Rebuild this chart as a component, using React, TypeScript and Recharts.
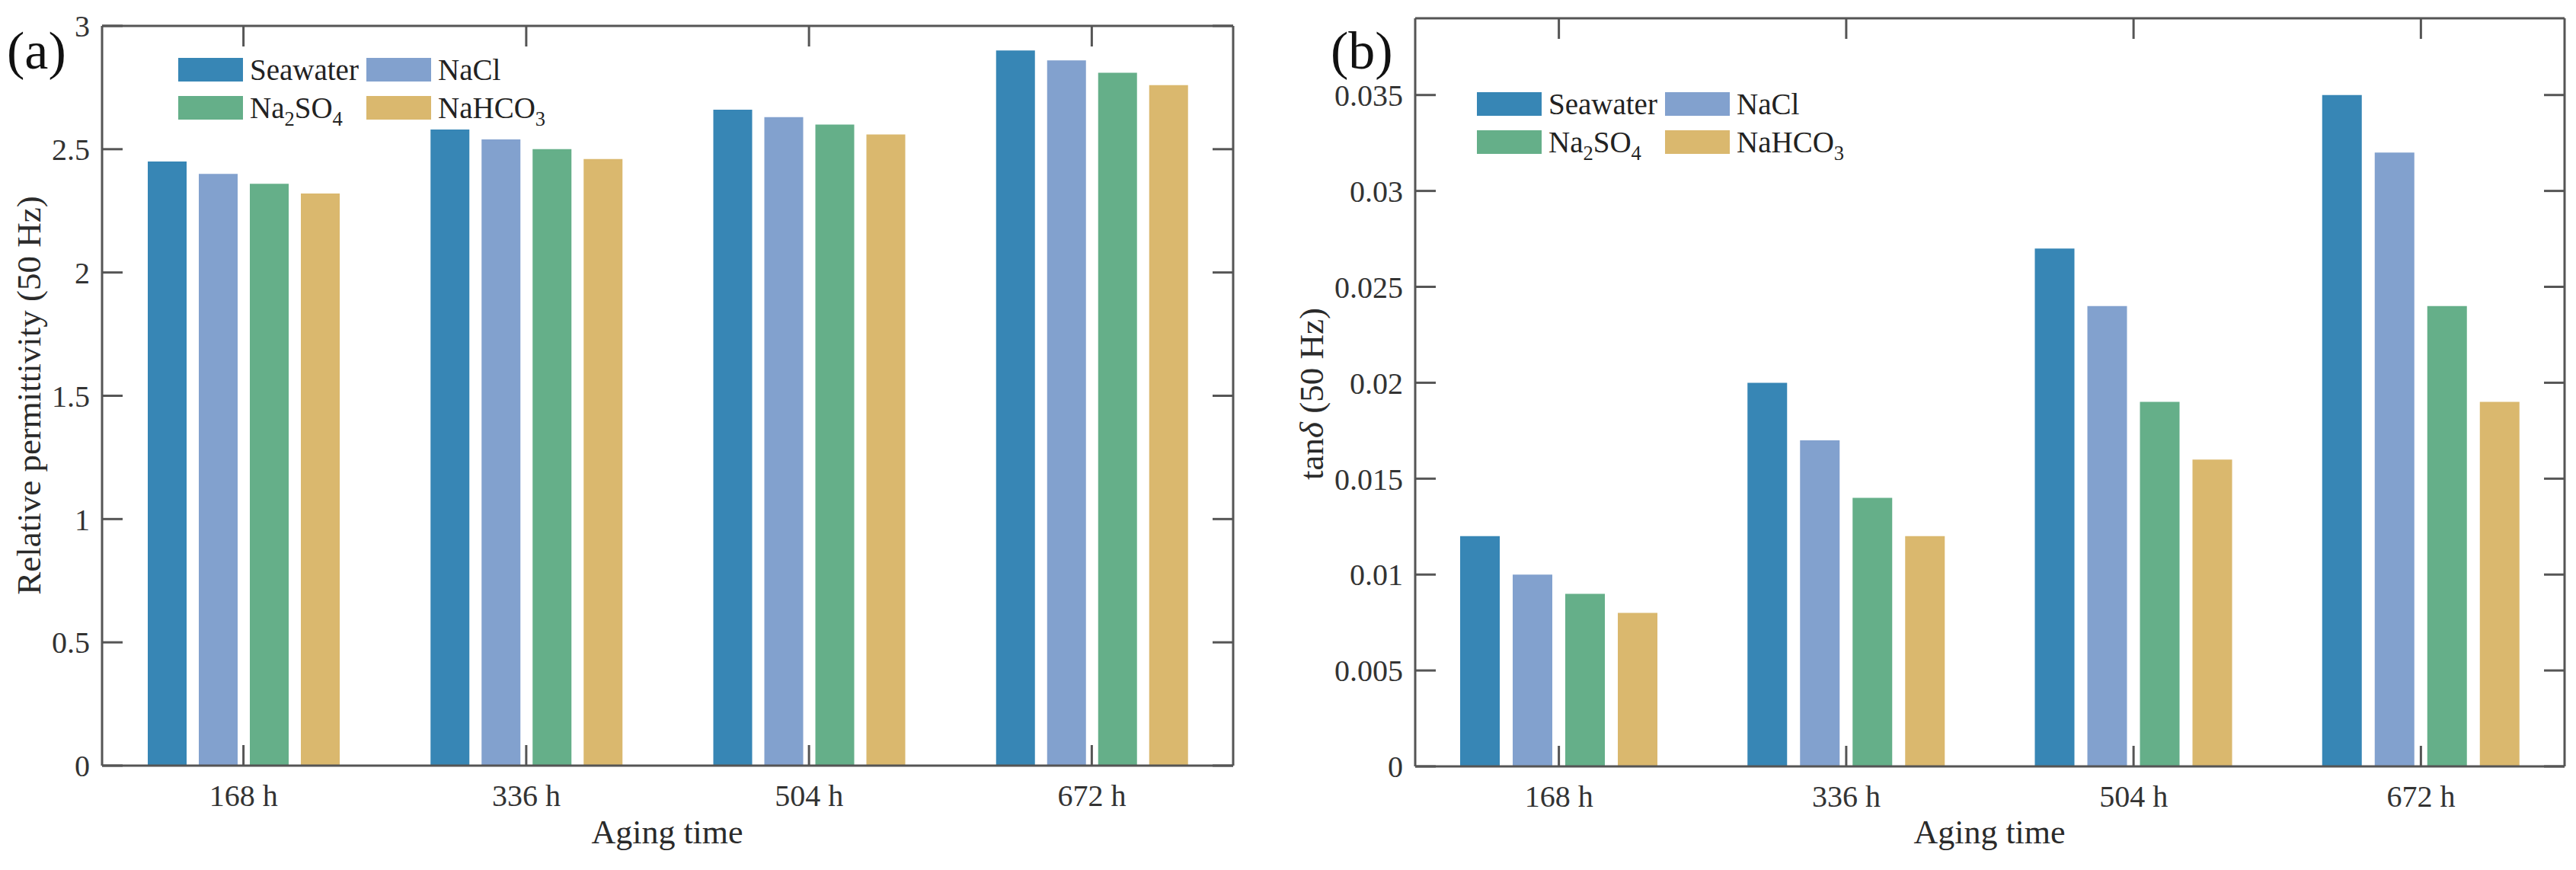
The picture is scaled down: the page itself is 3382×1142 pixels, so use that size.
import { BarChart, Bar, XAxis, YAxis, Legend, ReferenceLine } from 'recharts'

const FONT = "'Liberation Serif', 'Times New Roman', serif"
const AXIS = '#555555'
const TEXT = '#333333'
const TICK_LEN = 27

const CATEGORIES = ['168 h', '336 h', '504 h', '672 h']
const SERIES = ['Seawater', 'NaCl', 'Na2SO4', 'NaHCO3']
const COLORS = ['#3786b5', '#82a1ce', '#65af89', '#dab86e']

// (a) relative permittivity at 50 Hz
const PERM_SEAWATER = [2.45, 2.58, 2.66, 2.9]
const PERM_NACL = [2.4, 2.54, 2.63, 2.86]
const PERM_NA2SO4 = [2.36, 2.5, 2.6, 2.81]
const PERM_NAHCO3 = [2.32, 2.46, 2.56, 2.76]
const PERM_TICKS = [0, 0.5, 1, 1.5, 2, 2.5, 3]

// (b) tan delta at 50 Hz
const TAN_SEAWATER = [0.012, 0.02, 0.027, 0.035]
const TAN_NACL = [0.01, 0.017, 0.024, 0.032]
const TAN_NA2SO4 = [0.009, 0.014, 0.019, 0.024]
const TAN_NAHCO3 = [0.008, 0.012, 0.016, 0.019]
const TAN_TICKS = [0, 0.005, 0.01, 0.015, 0.02, 0.025, 0.03, 0.035]

function buildRows(series: number[][]) {
  return CATEGORIES.map((cat, i) => {
    const row: Record<string, string | number> = { cat }
    series.forEach((vals, k) => { row['s' + k] = vals[i] })
    return row
  })
}

const permRows = buildRows([PERM_SEAWATER, PERM_NACL, PERM_NA2SO4, PERM_NAHCO3])
const tanRows = buildRows([TAN_SEAWATER, TAN_NACL, TAN_NA2SO4, TAN_NAHCO3])

// digits in formulas go down as subscripts
function chem(label: string) {
  return label.split(/(\d+)/).map((part, i) =>
    /^\d+$/.test(part)
      ? <span key={i} style={{ fontSize: '0.68em', position: 'relative', top: '0.38em' }}>{part}</span>
      : <span key={i}>{part}</span>
  )
}

function SwatchLegend({ payload }: { payload?: { value: string; color: string }[] }) {
  if (!payload?.length) return null
  // keep series order (Seawater, NaCl / Na2SO4, NaHCO3)
  const items = payload
    .filter((e) => SERIES.includes(e.value))
    .sort((a, b) => SERIES.indexOf(a.value) - SERIES.indexOf(b.value))
  return (
    <div style={{ display: 'grid', gridTemplateColumns: '247px 260px', rowGap: 19, fontFamily: FONT }}>
      {items.map((e) => (
        <div key={e.value} style={{ display: 'flex', alignItems: 'center', height: 31 }}>
          <span style={{ width: 85, height: 31, background: e.color, marginRight: 9, flex: 'none' }} />
          <span style={{ fontSize: 39, lineHeight: 1, color: '#222', whiteSpace: 'nowrap' }}>{chem(e.value)}</span>
        </div>
      ))}
    </div>
  )
}

type LineEnds = { x1?: number; y1?: number; x2?: number; y2?: number }

// mirrored inward tick on the top border, placed by the category scale
const TopTick = (p: LineEnds) => {
  const x = Number(p.x1 ?? 0)
  const top = Math.min(Number(p.y1 ?? 0), Number(p.y2 ?? 0))
  return <line x1={x} y1={top} x2={x} y2={top + TICK_LEN} stroke={AXIS} strokeWidth={3} />
}

// mirrored inward tick on the right border, placed by the value scale
const RightTick = (p: LineEnds) => {
  const right = Math.max(Number(p.x1 ?? 0), Number(p.x2 ?? 0))
  const y = Number(p.y1 ?? 0)
  return <line x1={right - TICK_LEN} y1={y} x2={right} y2={y} stroke={AXIS} strokeWidth={3} />
}

type PanelProps = {
  rows: Record<string, string | number>[]
  left: number
  width: number
  margin: { top: number; right: number; bottom: number; left: number }
  domain: [number, number]
  ticks: number[]
  barSize: number
  barGap: number
  legendAt: { left: number; top: number }
}

function Panel({ rows, left, width, margin, domain, ticks, barSize, barGap, legendAt }: PanelProps) {
  const line = { stroke: AXIS, strokeWidth: 3 }
  const tickStyle = { fill: TEXT, fontSize: 40, fontFamily: FONT }
  return (
    <div style={{ position: 'absolute', left, top: 0 }}>
      <BarChart width={width} height={1142} data={rows} margin={margin} barGap={barGap}>
        <XAxis dataKey="cat" interval={0} height={1} axisLine={line} tickLine={line} tickSize={-TICK_LEN} tickMargin={52} tick={tickStyle} />
        <XAxis xAxisId="top" orientation="top" dataKey="cat" height={1} axisLine={line} tickLine={false} tick={false} />
        <YAxis type="number" domain={domain} ticks={ticks} interval={0} allowDataOverflow width={1} axisLine={line} tickLine={line} tickSize={-TICK_LEN} tickMargin={43} tick={tickStyle} />
        <YAxis yAxisId="right" orientation="right" type="number" domain={domain} allowDataOverflow width={1} axisLine={line} tickLine={false} tick={false} />
        <Legend
          layout="horizontal"
          verticalAlign="middle"
          align="center"
          wrapperStyle={{ left: legendAt.left, top: legendAt.top, width: 520 }}
          content={<SwatchLegend />}
        />
        {SERIES.map((name, k) => (
          <Bar key={name} dataKey={'s' + k} name={name} fill={COLORS[k]} barSize={barSize} isAnimationActive={false} />
        ))}
        {CATEGORIES.map((c) => (
          <ReferenceLine key={c} x={c} ifOverflow="visible" shape={TopTick} />
        ))}
        {ticks.map((t) => (
          <ReferenceLine key={t} y={t} ifOverflow="visible" shape={RightTick} />
        ))}
      </BarChart>
    </div>
  )
}

export default function App() {
  const title = { fontFamily: FONT, fontSize: 45, fill: '#2a2a2a' }
  return (
    <div style={{ position: 'absolute', left: 0, top: 0, width: 3382, height: 1142, background: '#fff' }}>
      <Panel
        rows={permRows}
        left={0}
        width={1700}
        margin={{ top: 33, right: 80, bottom: 136, left: 133 }}
        domain={[0, 3]}
        ticks={PERM_TICKS}
        barSize={51}
        barGap={16}
        legendAt={{ left: 234, top: 76 }}
      />
      <Panel
        rows={tanRows}
        left={1700}
        width={1682}
        margin={{ top: 23, right: 14, bottom: 135, left: 157 }}
        domain={[0, 0.039]}
        ticks={TAN_TICKS}
        barSize={52}
        barGap={17}
        legendAt={{ left: 239, top: 121 }}
      />
      <svg width={3382} height={1142} style={{ position: 'absolute', left: 0, top: 0, pointerEvents: 'none' }}>
        <text x={9} y={90} fontFamily={FONT} fontSize={70} fill="#111">(a)</text>
        <text x={1747} y={90} fontFamily={FONT} fontSize={70} fill="#111">(b)</text>
        <text x={38} y={519} transform="rotate(-90 38 519)" textAnchor="middle" dominantBaseline="central" {...title}>
          Relative permittivity (50 Hz)
        </text>
        <text x={1722} y={517} transform="rotate(-90 1722 517)" textAnchor="middle" dominantBaseline="central" {...title}>
          tan<tspan fontStyle="italic">δ</tspan> (50 Hz)
        </text>
        <text x={876} y={1107} textAnchor="middle" fontFamily={FONT} fontSize={44} fill="#2a2a2a">Aging time</text>
        <text x={2612} y={1107} textAnchor="middle" fontFamily={FONT} fontSize={44} fill="#2a2a2a">Aging time</text>
      </svg>
    </div>
  )
}
